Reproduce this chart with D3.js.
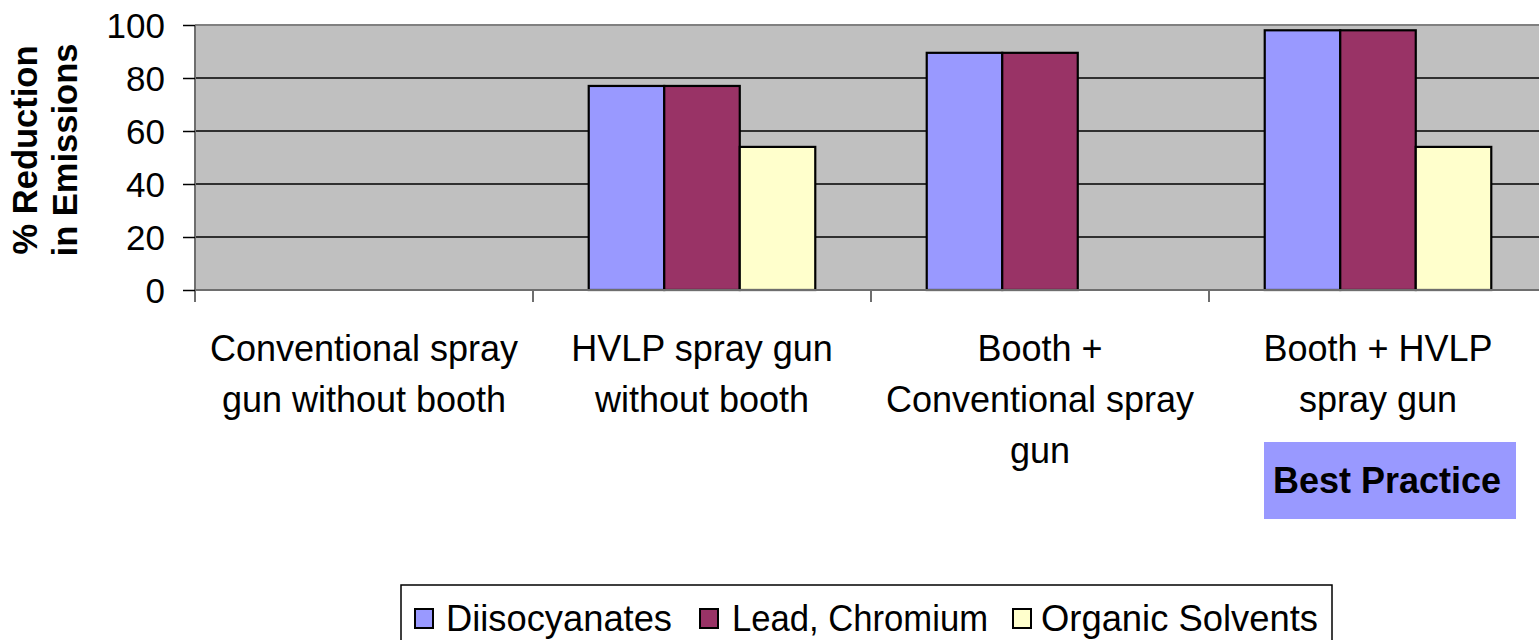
<!DOCTYPE html>
<html>
<head>
<meta charset="utf-8">
<script src="https://cdn.jsdelivr.net/npm/d3@7"></script>
<style>
  html, body { margin: 0; padding: 0; background: #fff; overflow: hidden; }
  svg { display: block; font-family: "Liberation Sans", Arial, sans-serif; }
</style>
</head>
<body>
<svg id="chart" width="1539" height="640"></svg>
<script>
const categories = [
  ["Conventional spray", "gun without booth"],
  ["HVLP spray gun", "without booth"],
  ["Booth +", "Conventional spray", "gun"],
  ["Booth + HVLP", "spray gun"]
];
const categoryKeys = ["c1", "c2", "c3", "c4"];
const seriesNames = ["Diisocyanates", "Lead, Chromium", "Organic Solvents"];
const diisocyanates = [0, 77, 89.5, 98];
const leadChromium = [0, 77, 89.5, 98];
const organicSolvents = [0, 54, 0, 54];
const seriesColors = ["#9999FF", "#993366", "#FFFFCC"];
const yTicks = [0, 20, 40, 60, 80, 100];
const yTitle = ["% Reduction", "in Emissions"];
const noteText = "Best Practice";

const seriesValues = [diisocyanates, leadChromium, organicSolvents];

const svg = d3.select("#chart");
const plotLeft = 195, plotRight = 1547, plotTop = 25, plotBottom = 290;

const x0 = d3.scaleBand().domain(categoryKeys).range([plotLeft, plotRight]).paddingInner(0).paddingOuter(0);
const x1 = d3.scaleBand().domain(seriesNames).range([0, x0.bandwidth()]).paddingInner(0).paddingOuter(0.738);
const y = d3.scaleLinear().domain([0, 100]).range([plotBottom, plotTop]);

// plot background
svg.append("rect").attr("x", plotLeft).attr("y", plotTop).attr("width", plotRight - plotLeft).attr("height", plotBottom - plotTop)
  .attr("fill", "#C0C0C0");

// gridlines
svg.append("g").selectAll("line").data(yTicks.filter(d => d > 0 && d < 100)).join("line")
  .attr("x1", plotLeft).attr("x2", plotRight).attr("y1", d => y(d)).attr("y2", d => y(d))
  .attr("stroke", "#000").attr("stroke-width", 1.5);

// top border
svg.append("line").attr("x1", plotLeft).attr("x2", plotRight).attr("y1", y(100)).attr("y2", y(100))
  .attr("stroke", "#808080").attr("stroke-width", 2);

// bars
const groups = svg.append("g").selectAll("g").data(categoryKeys).join("g")
  .attr("transform", d => `translate(${x0(d)},0)`);
groups.selectAll("rect")
  .data((c, i) => seriesNames.map((s, j) => ({ s, v: seriesValues[j][i], color: seriesColors[j] })).filter(d => d.v > 0))
  .join("rect")
  .attr("x", d => x1(d.s))
  .attr("width", x1.bandwidth())
  .attr("y", d => y(d.v))
  .attr("height", d => y(0) - y(d.v))
  .attr("fill", d => d.color)
  .attr("stroke", "#000")
  .attr("stroke-width", 2.2);

// y axis
const yAxis = svg.append("g").attr("transform", `translate(${plotLeft},0)`)
  .call(d3.axisLeft(y).tickValues(yTicks).tickSize(12).tickPadding(18).tickFormat(d3.format("d")));
yAxis.select(".domain").attr("stroke", "#6e6e6e").attr("stroke-width", 2).attr("d", `M0,${plotTop}V${plotBottom + 12}`);
yAxis.selectAll(".tick line").attr("stroke", "#000").attr("stroke-width", 1.5);
yAxis.selectAll(".tick text").attr("font-size", 35).attr("fill", "#000")
  .attr("font-family", "Liberation Sans, Arial, sans-serif").attr("dy", "0.36em");

// x axis baseline and category ticks
svg.append("line").attr("x1", plotLeft).attr("x2", plotRight).attr("y1", plotBottom).attr("y2", plotBottom)
  .attr("stroke", "#6e6e6e").attr("stroke-width", 2);
svg.append("g").selectAll("line").data(categoryKeys.slice(1)).join("line")
  .attr("x1", d => x0(d)).attr("x2", d => x0(d)).attr("y1", plotBottom).attr("y2", plotBottom + 12)
  .attr("stroke", "#6e6e6e").attr("stroke-width", 2);

// category labels
categoryKeys.forEach((k, i) => {
  const cx = x0(k) + x0.bandwidth() / 2;
  const t = svg.append("text").attr("x", cx).attr("y", 361)
    .attr("text-anchor", "middle").attr("font-size", 36).attr("fill", "#000");
  categories[i].forEach((line, li) => {
    t.append("tspan").attr("x", cx).attr("y", 361 + li * 51).text(line);
  });
});

// y axis title
const yt = svg.append("text").attr("transform", "translate(0,150) rotate(-90)")
  .attr("text-anchor", "middle").attr("font-size", 34.5).attr("font-weight", "bold").attr("fill", "#000");
yTitle.forEach((line, i) => yt.append("tspan").attr("x", 0).attr("y", 37 + i * 40).text(line));

// Best Practice note
svg.append("rect").attr("x", 1264).attr("y", 442).attr("width", 252).attr("height", 77).attr("fill", "#9999FF");
svg.append("text").attr("x", 1387).attr("y", 493).attr("text-anchor", "middle")
  .attr("font-size", 36).attr("font-weight", "bold").attr("fill", "#000").text(noteText);

// legend
const legend = svg.append("g");
legend.append("rect").attr("x", 401).attr("y", 585).attr("width", 931).attr("height", 70)
  .attr("fill", "#fff").attr("stroke", "#000").attr("stroke-width", 1.5);
const swatchX = [415, 700, 1013];
const textX = [446, 732, 1041];
const textLen = [226, 256, 277];
seriesNames.forEach((s, i) => {
  legend.append("rect").attr("x", swatchX[i]).attr("y", 609).attr("width", 18).attr("height", 19)
    .attr("fill", seriesColors[i]).attr("stroke", "#000").attr("stroke-width", 2);
  legend.append("text").attr("x", textX[i]).attr("y", 631).attr("font-size", 36).attr("fill", "#000")
    .attr("textLength", textLen[i]).attr("lengthAdjust", "spacingAndGlyphs").text(s);
});
</script>
</body>
</html>
